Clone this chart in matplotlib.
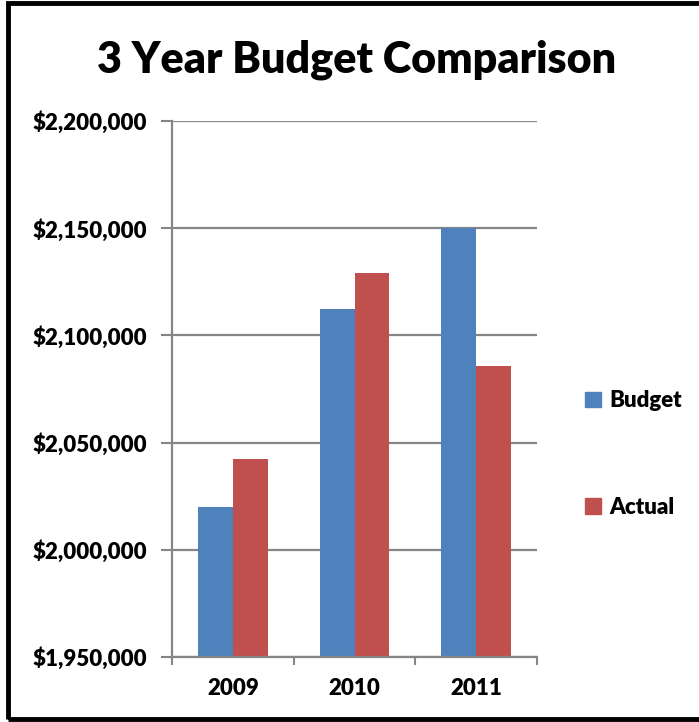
import matplotlib
matplotlib.use("Agg")
import matplotlib.pyplot as plt
import numpy as np
from matplotlib.patches import Rectangle

years = ["2009", "2010", "2011"]
budget = [2020000, 2112500, 2150000]
actual = [2042500, 2129000, 2085800]
series_names = ["Budget", "Actual"]
colors = ["#4F81BD", "#C0504D"]
yticks = [1950000, 2000000, 2050000, 2100000, 2150000, 2200000]

plt.rcParams['font.family'] = ['Lato', 'DejaVu Sans']

W = 'heavy'
fig = plt.figure(figsize=(6.99, 7.22), dpi=100)
ax = fig.add_axes([172/699, 65/722, 365/699, 536/722])

x = np.arange(len(years))
w = 1/3.5
ax.bar(x - w/2, budget, w, color=colors[0], label=series_names[0], zorder=3)
ax.bar(x + w/2, actual, w, color=colors[1], label=series_names[1], zorder=3)

ax.set_ylim(yticks[0], yticks[-1])
ax.set_xlim(-0.5, 2.5)
ax.set_yticks(yticks)
ax.set_yticklabels(["${:,}".format(v) for v in yticks], fontsize=16, fontweight=W)
ax.set_xticks([-0.5, 0.5, 1.5, 2.5])
ax.set_xticklabels([])
ax.set_xticks(x, minor=True)
ax.set_xticklabels(years, minor=True, fontsize=16, fontweight=W)
ax.tick_params(axis='x', which='minor', length=0, pad=15)
ax.tick_params(axis='x', which='major', length=6, width=1.5, color='#868686', direction='out')
ax.tick_params(axis='y', length=8, width=1.5, color='#868686', pad=10)
ax.grid(axis='y', color='#868686', linewidth=1.6, zorder=0)
for s in ['top', 'right']:
    ax.spines[s].set_visible(False)
for s in ['left', 'bottom']:
    ax.spines[s].set_color('#868686')
    ax.spines[s].set_linewidth(1.6)
    ax.spines[s].set_zorder(4)

fig.text(357/699, 1 - 60/722, "3 Year Budget Comparison", ha='center', va='center',
         fontsize=31, fontweight=W)

handles = [Rectangle((0, 0), 1, 1, color=c) for c in colors]
leg = fig.legend(handles, series_names, loc='center left', bbox_to_anchor=(565/699, 1 - 454/722),
                 frameon=False, prop={'size': 16, 'weight': W}, handlelength=0.7,
                 handleheight=0.7, handletextpad=0.4, labelspacing=3.83)

fig.patches.append(Rectangle((8/699, 3/722), 700/699, 716/722, transform=fig.transFigure,
                             fill=False, edgecolor='black', linewidth=3.5))

fig.savefig("out.png", dpi=100)
